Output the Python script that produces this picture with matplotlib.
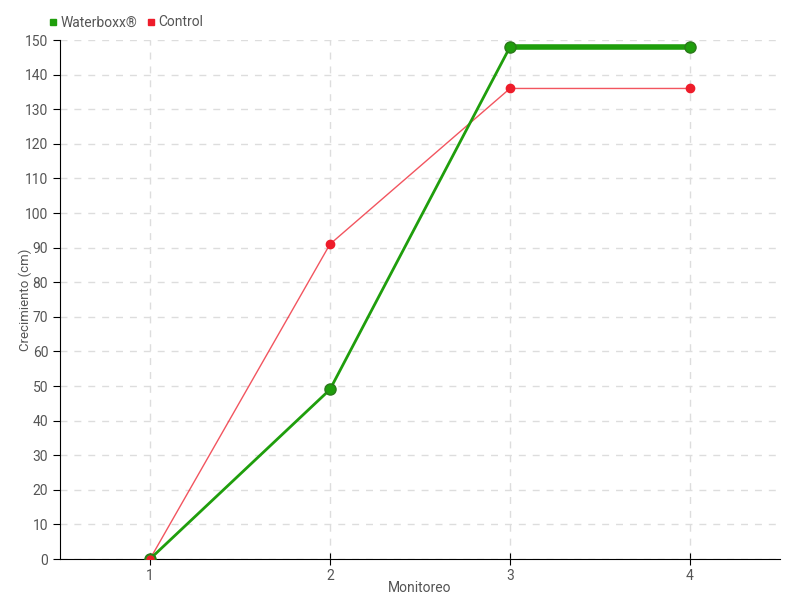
import matplotlib.pyplot as plt
from matplotlib.lines import Line2D

# data
monitoreo = [1, 2, 3, 4]
waterboxx = [0, 49, 148, 148]
control = [0, 91, 136, 136]
y_ticks = list(range(0, 151, 10))

green = '#1f9e0c'
red = '#ee1c2a'
txt = '#555555'

plt.rcParams['font.family'] = ['Roboto', 'DejaVu Sans']
plt.rcParams['font.size'] = 10

fig = plt.figure(figsize=(8, 6), dpi=100)
ax = fig.add_axes([0.075, 0.0683, 0.9, 0.865])

ax.plot(monitoreo, control, color=red, lw=1, alpha=0.75, zorder=3)
ax.plot(monitoreo, control, 'o', color=red, ms=6, zorder=4)
ax.plot(monitoreo[:3], waterboxx[:3], color=green, lw=2, zorder=5)
ax.plot(monitoreo[2:], waterboxx[2:], color=green, lw=4, zorder=5)
ax.plot(monitoreo, waterboxx, 'o', color=green, mec='#2a7a1a', ms=8, zorder=6)
ax.plot(monitoreo[:1], control[:1], 'o', color=red, ms=5, zorder=7)

ax.set_xlim(0.5, 4.5)
ax.set_ylim(0, 150)
ax.set_xticks(monitoreo)
ax.set_yticks(y_ticks)
ax.grid(True, color='#dddddd', ls=(0, (5, 5)), lw=1)
ax.set_axisbelow(True)

for s in ['top', 'right']:
    ax.spines[s].set_visible(False)
ax.tick_params(axis='y', direction='out', length=5, labelcolor=txt)
ax.tick_params(axis='x', direction='inout', length=8, labelcolor=txt)
ax.tick_params(axis='both', color='black')

ax.set_xlabel('Monitoreo', color=txt)
ax.set_ylabel('Crecimiento (cm)', color=txt, fontsize=9.5)
ax.xaxis.set_label_coords(0.5, -0.042)
ax.yaxis.set_label_coords(-0.039, 0.5)

handles = [Line2D([], [], marker='s', ls='', color=green, ms=5),
           Line2D([], [], marker='s', ls='', color=red, ms=5)]
fig.legend(handles, ['Waterboxx®', 'Control'], loc='upper left',
           bbox_to_anchor=(0.044, 0.995), ncol=2, frameon=False,
           handletextpad=0.1, columnspacing=0.6, labelcolor=txt,
           handlelength=0.8)

fig.savefig('out.png', dpi=100)
